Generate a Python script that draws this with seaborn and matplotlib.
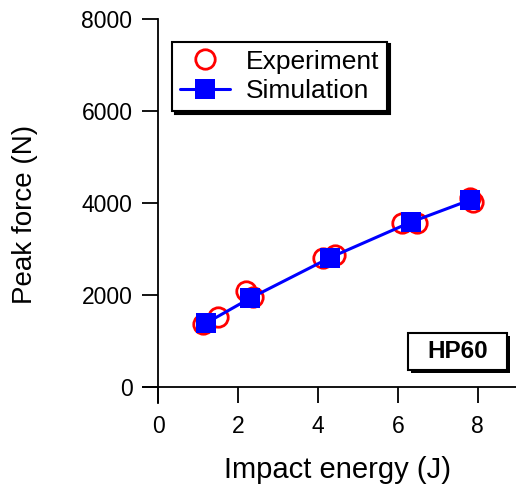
import matplotlib
matplotlib.use("Agg")
import matplotlib.pyplot as plt
import matplotlib.patches as mpatches
import seaborn as sns
import pandas as pd

# Data
exp_energy = [1.13, 1.49, 2.21, 2.38, 4.13, 4.43, 6.10, 6.47, 7.81, 7.89]
exp_force = [1365, 1525, 2090, 1960, 2795, 2867, 3557, 3557, 4100, 4030]
sim_energy = [1.19, 2.30, 4.30, 6.32, 7.81]
sim_force = [1380, 1925, 2809, 3580, 4065]
x_ticks = [0, 2, 4, 6, 8]
y_ticks = [0, 2000, 4000, 6000, 8000]

sns.set_theme(style="white")
plt.rcParams['font.family'] = ['Liberation Sans', 'DejaVu Sans']
plt.rcParams['text.color'] = 'black'
plt.rcParams['axes.labelcolor'] = 'black'
plt.rcParams['xtick.color'] = 'black'
plt.rcParams['ytick.color'] = 'black'

fig = plt.figure(figsize=(5.16, 4.99), dpi=100)
ax = fig.add_axes([143/516, 1-403/499, 373/516, (403-19.3)/499])

exp_df = pd.DataFrame({"energy": exp_energy, "force": exp_force})
sim_df = pd.DataFrame({"energy": sim_energy, "force": sim_force})

sns.lineplot(data=exp_df, x="energy", y="force", ax=ax, sort=False, estimator=None,
             linestyle="none", marker="o", markersize=14, markerfacecolor="none",
             markeredgecolor="#ff0000", markeredgewidth=2, color="#ff0000",
             label="Experiment", zorder=2)
sns.lineplot(data=sim_df, x="energy", y="force", ax=ax, sort=False, estimator=None,
             color="#0000ff", linewidth=2.2, marker="s", markersize=14.5,
             markeredgewidth=0, label="Simulation", zorder=3)

ax.set_xlim(-0.38, 8.96)
ax.set_ylim(-355, 8000)
ax.set_xticks(x_ticks)
ax.set_yticks(y_ticks)

for s in ["top", "right"]:
    ax.spines[s].set_visible(False)
for s in ["left", "bottom"]:
    ax.spines[s].set_position(("data", 0))
    ax.spines[s].set_color("black")
    ax.spines[s].set_linewidth(1.3)

ax.tick_params(axis="both", which="major", direction="out", length=11.5, width=1.3,
               color="black", labelsize=16.5, labelcolor="black")
ax.tick_params(axis="x", pad=9)
ax.tick_params(axis="y", pad=7)
ax.xaxis.set_ticks_position("bottom")
ax.yaxis.set_ticks_position("left")

ax.set_xlabel("Impact energy (J)", fontsize=21, va="center", color="black")
ax.set_ylabel("Peak force (N)", fontsize=20, va="center", color="black")
ax.xaxis.set_label_coords((337.5-143)/373, (403-470)/383.7)
ax.yaxis.set_label_coords((25-143)/373, (403-214)/383.7)

leg = ax.legend(loc="upper left", bbox_to_anchor=((172-143)/373, (403-41.7)/383.7),
                borderaxespad=0, fontsize=19, fancybox=False, frameon=True,
                shadow={"color": "black", "alpha": 1, "ox": 2, "oy": -2}, handlelength=1.9,
                handletextpad=0.6, labelspacing=0.2, borderpad=0.3)
leg.get_frame().set_edgecolor("black")
leg.get_frame().set_linewidth(1.5)
for t in leg.get_texts():
    t.set_color("black")

# HP60 label box with drop shadow
bx0, bx1 = (408-143)/373, (507-143)/373
by0, by1 = (403-370)/383.7, (403-333)/383.7
ax.add_patch(mpatches.Rectangle((bx0 + 2.5/373, by0 - 2.5/383.7), bx1-bx0, by1-by0,
                                transform=ax.transAxes, fc="black", ec="black",
                                lw=0, zorder=4, clip_on=False))
ax.add_patch(mpatches.Rectangle((bx0, by0), bx1-bx0, by1-by0, transform=ax.transAxes,
                                fc="white", ec="black", lw=1.5, zorder=5, clip_on=False))
ax.text((bx0+bx1)/2, (by0+by1)/2, "HP60", transform=ax.transAxes,
        ha="center", va="center", fontsize=17.5, fontweight="bold", color="black",
        zorder=6)

fig.savefig("out.png", dpi=100)
